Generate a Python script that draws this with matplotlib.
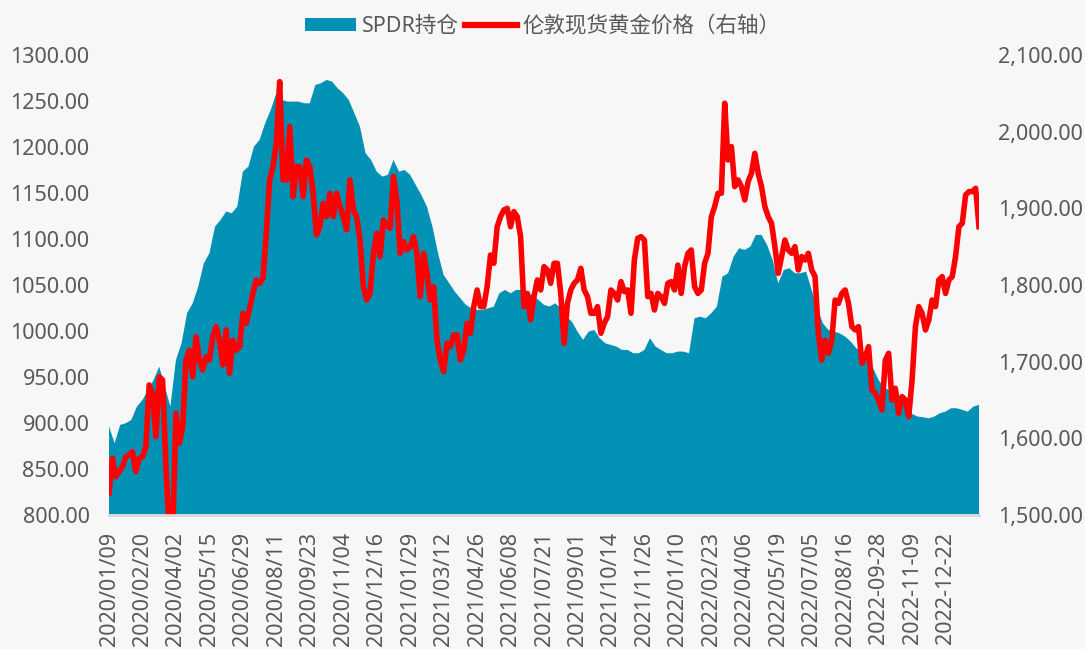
import numpy as np
import matplotlib
matplotlib.use('Agg')
import matplotlib.pyplot as plt
from matplotlib.patches import Patch
from matplotlib.lines import Line2D
from matplotlib.ticker import FuncFormatter

plt.rcParams['font.family'] = ['Noto Sans', 'Noto Sans CJK SC', 'DejaVu Sans']

# trading-day labels on the category axis, one every 30 days
date_labels = ['2020/01/09', '2020/02/20', '2020/04/02', '2020/05/15', '2020/06/29',
               '2020/08/11', '2020/09/23', '2020/11/04', '2020/12/16', '2021/01/29',
               '2021/03/12', '2021/04/26', '2021/06/08', '2021/07/21', '2021/09/01',
               '2021/10/14', '2021/11/26', '2022/01/10', '2022/02/23', '2022/04/06',
               '2022/05/19', '2022/07/05', '2022/08/16', '2022-09-28', '2022-11-09',
               '2022-12-22']
label_step = 30
n_days = 781

# SPDR holdings (tonnes), read every 5 trading days
spdr_step = 5
spdr_holdings = [
  896.1, 878.0, 897.9, 899.7, 903.3, 917.8, 925.0, 935.9, 946.8, 961.3,
  939.5, 917.8, 968.5, 986.6, 1019.3, 1030.1, 1048.2, 1073.6, 1084.5, 1113.4,
  1120.7, 1129.8, 1128.0, 1135.2, 1173.2, 1178.7, 1200.4, 1207.7, 1225.8, 1240.3,
  1258.4, 1251.1, 1249.3, 1249.3, 1249.3, 1247.5, 1247.5, 1267.4, 1269.2, 1272.9,
  1271.0, 1263.8, 1258.4, 1251.1, 1236.6, 1222.1, 1193.2, 1185.9, 1173.2, 1167.8,
  1169.6, 1185.9, 1173.2, 1175.0, 1169.6, 1158.7, 1147.9, 1135.2, 1113.4, 1084.5,
  1060.9, 1051.9, 1042.8, 1035.6, 1028.3, 1024.7, 1022.9, 1022.9, 1024.7, 1026.5,
  1041.0, 1044.6, 1041.0, 1044.6, 1044.6, 1041.0, 1039.2, 1033.7, 1028.3, 1026.5,
  1030.1, 1024.7, 1015.6, 1010.2, 999.3, 990.3, 999.3, 1001.1, 992.1, 986.6,
  984.8, 983.0, 979.4, 979.4, 975.8, 975.8, 979.4, 992.1, 983.0, 979.4,
  975.8, 975.8, 977.6, 977.6, 975.8, 1013.8, 1015.6, 1013.8, 1019.3, 1026.5,
  1059.1, 1062.7, 1080.8, 1089.9, 1088.1, 1091.7, 1104.4, 1104.4, 1093.5, 1077.2,
  1051.9, 1066.3, 1068.2, 1062.7, 1062.7, 1064.5, 1044.6, 1024.7, 1008.4, 1001.1,
  999.3, 997.5, 993.9, 988.5, 981.2, 977.6, 966.7, 959.5, 946.8, 937.7,
  935.9, 932.3, 926.9, 914.9, 909.8, 907.0, 906.2, 905.1, 907.0, 910.6,
  912.4, 916.0, 916.0, 914.2, 912.4, 917.8, 919.6,
]

# London spot gold price (USD/oz), read every 3 trading days
gold_step = 3
gold_price = [
  1528.3, 1574.0, 1550.0, 1556.5, 1563.0, 1576.0, 1578.3, 1582.6, 1556.5, 1574.0,
  1576.0, 1589.0, 1669.6, 1658.7, 1602.0, 1680.4, 1676.0, 1563.0, 1478.0, 1474.0,
  1632.6, 1593.5, 1615.0, 1702.0, 1715.0, 1680.4, 1732.6, 1702.0, 1689.0, 1706.5,
  1702.0, 1732.6, 1745.7, 1728.0, 1695.6, 1741.3, 1684.8, 1728.0, 1715.0, 1719.6,
  1763.0, 1750.0, 1769.6, 1789.0, 1806.5, 1802.0, 1808.7, 1867.4, 1937.0, 1954.4,
  1984.8, 2065.2, 1937.0, 1937.0, 2006.5, 1915.2, 1954.4, 1954.4, 1915.2, 1963.0,
  1954.4, 1919.6, 1865.2, 1876.0, 1906.5, 1889.1, 1919.6, 1889.1, 1919.6, 1902.2,
  1889.1, 1871.8, 1937.0, 1897.8, 1889.1, 1858.7, 1797.8, 1780.4, 1789.0, 1841.3,
  1867.4, 1837.0, 1884.8, 1878.3, 1874.0, 1941.3, 1910.9, 1841.3, 1856.5, 1845.7,
  1850.0, 1863.0, 1841.3, 1784.8, 1841.3, 1815.2, 1780.4, 1797.8, 1728.0, 1702.0,
  1687.0, 1724.0, 1719.6, 1734.8, 1734.8, 1702.0, 1715.0, 1750.0, 1737.0, 1771.8,
  1793.5, 1771.8, 1771.8, 1797.8, 1839.1, 1828.3, 1876.0, 1889.1, 1897.8, 1900.0,
  1876.0, 1895.7, 1889.1, 1863.0, 1771.8, 1789.0, 1754.4, 1784.8, 1806.5, 1793.5,
  1823.9, 1819.6, 1802.2, 1828.3, 1828.3, 1789.0, 1724.0, 1776.0, 1793.5, 1802.2,
  1806.5, 1821.7, 1793.5, 1784.8, 1763.0, 1763.0, 1771.8, 1737.0, 1750.0, 1758.7,
  1793.5, 1789.0, 1780.4, 1804.4, 1791.3, 1793.5, 1763.0, 1832.6, 1860.9, 1863.0,
  1858.7, 1784.8, 1789.0, 1767.4, 1789.0, 1784.8, 1776.0, 1802.2, 1804.4, 1793.5,
  1826.0, 1789.0, 1823.9, 1841.3, 1845.7, 1797.8, 1789.0, 1793.5, 1828.3, 1841.3,
  1889.1, 1902.2, 1919.6, 1919.6, 2037.0, 1963.0, 1980.5, 1928.3, 1937.0, 1928.3,
  1910.9, 1934.8, 1945.7, 1971.8, 1945.7, 1928.3, 1902.2, 1889.1, 1880.5, 1850.0,
  1815.2, 1837.0, 1858.7, 1845.7, 1841.3, 1850.0, 1819.6, 1837.0, 1832.6, 1841.3,
  1819.6, 1810.9, 1737.0, 1702.0, 1728.0, 1710.9, 1728.0, 1780.4, 1776.0, 1789.0,
  1793.5, 1776.0, 1745.7, 1741.3, 1745.7, 1697.8, 1706.5, 1719.6, 1663.0, 1658.7,
  1650.0, 1637.0, 1702.0, 1710.9, 1650.0, 1665.2, 1632.6, 1654.4, 1650.0, 1628.3,
  1676.0, 1745.7, 1771.8, 1763.0, 1741.3, 1754.4, 1780.4, 1771.8, 1806.5, 1810.9,
  1789.0, 1806.5, 1810.9, 1837.0, 1876.0, 1880.5, 1917.4, 1921.8, 1921.8, 1926.1,
  1876.0,
]

blue = '#0091b5'
red = '#ff0000'
text_grey = '#595959'
bg = '#f7f7f7'

fig = plt.figure(figsize=(10.85, 6.49), dpi=100, facecolor=bg)
ax = fig.add_axes([0.1005, 0.2065, 0.8018, 0.7088])
ax.set_facecolor(bg)

spdr_x = np.arange(len(spdr_holdings)) * spdr_step
gold_x = np.arange(len(gold_price)) * gold_step

ax.fill_between(spdr_x, 0, spdr_holdings, color=blue, lw=0)
ax.set_ylim(800, 1300)
ax.set_yticks(np.arange(800, 1301, 50))
ax.yaxis.set_major_formatter(FuncFormatter(lambda v, _: '%.2f' % v))
ax.set_xlim(0, n_days - 1)
ax.set_xticks(np.arange(len(date_labels)) * label_step)
ax.set_xticklabels(date_labels, rotation=90)

ax2 = ax.twinx()
ax2.plot(gold_x, gold_price, color=red, lw=4, solid_joinstyle='round')
ax2.set_ylim(1500, 2100)
ax2.set_yticks(np.arange(1500, 2101, 100))
ax2.yaxis.set_major_formatter(FuncFormatter(lambda v, _: '{:,.2f}'.format(v)))

for a in (ax, ax2):
  for s in ('top', 'left', 'right'):
    a.spines[s].set_visible(False)
  a.spines['bottom'].set_color('#d9d9d9')
  a.spines['bottom'].set_linewidth(2)
  a.tick_params(length=0, labelsize=15.5, labelcolor=text_grey)
ax.tick_params(axis='y', pad=14)
ax.tick_params(axis='x', pad=12)
ax2.tick_params(axis='y', pad=14)

handles = [Patch(facecolor=blue, edgecolor='none'),
           Line2D([], [], color=red, lw=4.5)]
fig.legend(handles, ['SPDR持仓', '伦敦现货黄金价格（右轴）'], loc='upper center',
           bbox_to_anchor=(0.5, 1.005), ncol=2, frameon=False, fontsize=15.5,
           labelcolor=text_grey, handlelength=2.4, handleheight=0.6,
           handletextpad=0.25, columnspacing=0.3)

plt.savefig('out.png', dpi=100, facecolor=bg)
